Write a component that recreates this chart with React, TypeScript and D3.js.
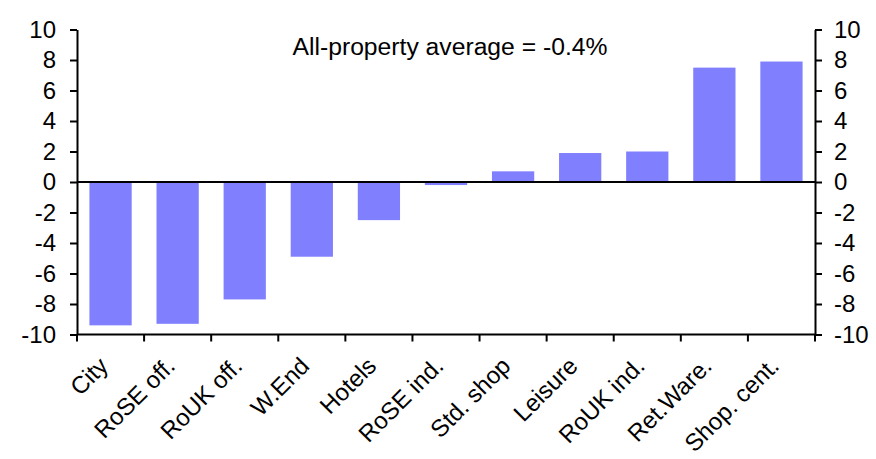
import React, { useEffect, useRef } from 'react';
import * as d3 from 'd3';

const categories = [
  'City', 'RoSE off.', 'RoUK off.', 'W.End', 'Hotels', 'RoSE ind.',
  'Std. shop', 'Leisure', 'RoUK ind.', 'Ret.Ware.', 'Shop. cent.',
];
const values = [-9.4, -9.3, -7.7, -4.9, -2.5, -0.2, 0.7, 1.9, 2.0, 7.5, 7.9];
const yTicks = [-10, -8, -6, -4, -2, 0, 2, 4, 6, 8, 10];
const note = 'All-property average = -0.4%';

const App = () => {
  const svgRef = useRef<SVGSVGElement>(null);

  useEffect(() => {
    document.body.style.margin = '0';
    if (!svgRef.current) return;

    const width = 876;
    const height = 459;
    const m = { left: 77, right: 876 - 815, top: 29.5, bottom: 459 - 334.5 };
    const svg = d3.select(svgRef.current);
    svg.selectAll('*').remove();

    const font = '"Liberation Sans", Arial, sans-serif';
    const fs = 24;

    const x = d3.scaleBand()
      .domain(categories)
      .range([m.left, width - m.right])
      .paddingInner(0.37)
      .paddingOuter(0.185);

    const y = d3.scaleLinear()
      .domain([-10, 10])
      .range([height - m.bottom, m.top]);

    // bars
    svg.append('g')
      .selectAll('rect')
      .data(values)
      .enter()
      .append('rect')
      .attr('x', (_, i) => x(categories[i])!)
      .attr('width', x.bandwidth())
      .attr('y', d => y(Math.max(0, d)))
      .attr('height', d => Math.abs(y(d) - y(0)))
      .attr('fill', '#8080ff');

    // zero line
    svg.append('line')
      .attr('x1', m.left)
      .attr('x2', width - m.right)
      .attr('y1', y(0))
      .attr('y2', y(0))
      .attr('stroke', '#000')
      .attr('stroke-width', 2);

    // left & right axes (plain hyphen for negatives)
    const fmt = (d: d3.NumberValue) => String(d);
    const left = svg.append('g')
      .attr('transform', `translate(${m.left},0)`)
      .call(d3.axisLeft(y).tickValues(yTicks).tickFormat(fmt).tickSize(7).tickPadding(14).tickSizeOuter(0));
    const right = svg.append('g')
      .attr('transform', `translate(${width - m.right},0)`)
      .call(d3.axisRight(y).tickValues(yTicks).tickFormat(fmt).tickSize(7).tickPadding(12).tickSizeOuter(0));

    [left, right].forEach(g => {
      g.select('.domain').attr('stroke', '#000').attr('stroke-width', 2);
      g.selectAll('.tick line').attr('stroke', '#000').attr('stroke-width', 2);
      g.selectAll('.tick text')
        .attr('font-family', font)
        .attr('font-size', fs)
        .attr('fill', '#000');
    });

    // bottom axis, ticks between categories
    const bottom = svg.append('g')
      .attr('transform', `translate(0,${y(-10)})`);
    bottom.append('line')
      .attr('x1', m.left)
      .attr('x2', width - m.right)
      .attr('stroke', '#000')
      .attr('stroke-width', 2);
    const edges = d3.range(categories.length + 1).map(i => m.left + i * x.step());
    bottom.selectAll('line.edge')
      .data(edges)
      .enter()
      .append('line')
      .attr('class', 'edge')
      .attr('x1', d => d)
      .attr('x2', d => d)
      .attr('y1', 0)
      .attr('y2', 7)
      .attr('stroke', '#000')
      .attr('stroke-width', 2);

    bottom.selectAll('text')
      .data(categories)
      .enter()
      .append('text')
      .attr('transform', d => `translate(${x(d)! + x.bandwidth() / 2 - 7},27) rotate(-45)`)
      .attr('text-anchor', 'end')
      .attr('dy', '0.35em')
      .attr('font-family', font)
      .attr('font-size', fs)
      .attr('fill', '#000')
      .text(d => d);

    // annotation
    svg.append('text')
      .attr('x', 450)
      .attr('y', 55)
      .attr('text-anchor', 'middle')
      .attr('font-family', font)
      .attr('font-size', 24.7)
      .attr('fill', '#000')
      .text(note);
  }, []);

  return <svg ref={svgRef} width={876} height={459} style={{ display: 'block', background: '#fff' }} />;
};

export default App;
